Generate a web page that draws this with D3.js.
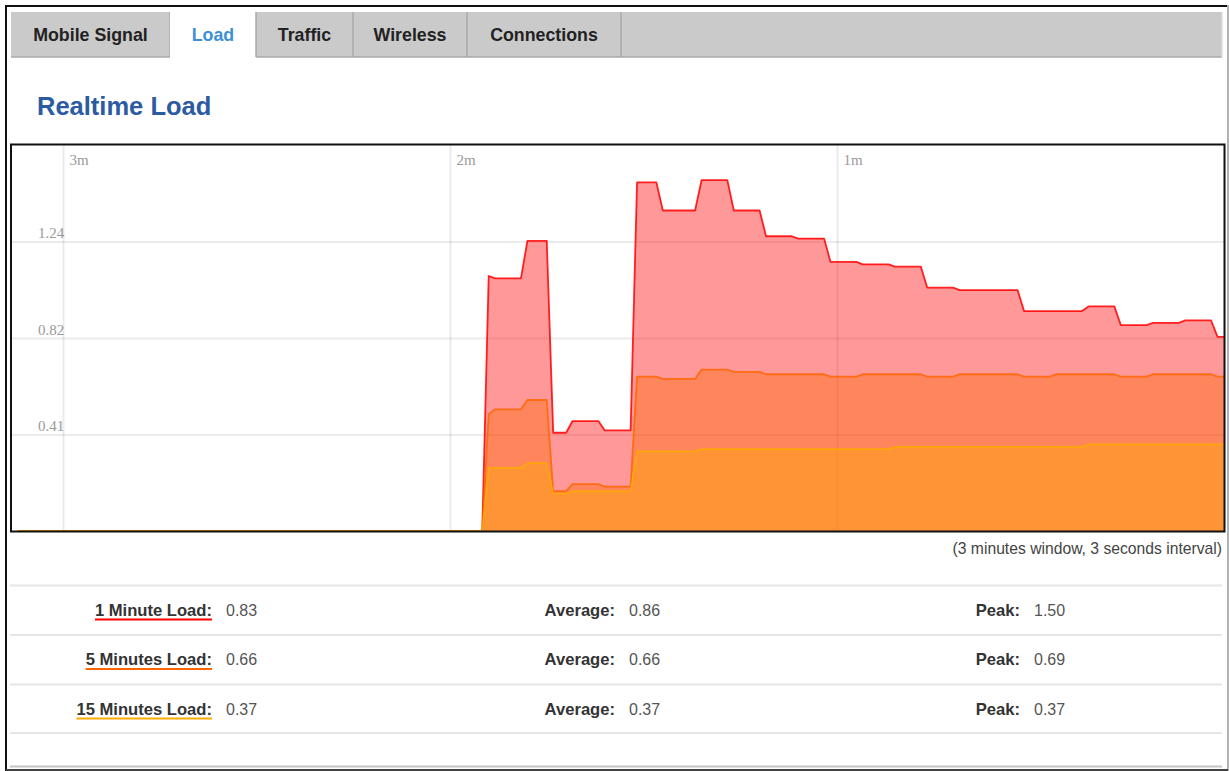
<!DOCTYPE html>
<html>
<head>
<meta charset="utf-8">
<title>Realtime Load</title>
<script src="https://cdn.jsdelivr.net/npm/d3@7"></script>
<style>
    html, body { margin: 0; padding: 0; background: #fff; }
    svg { display: block; }
</style>
</head>
<body>
<svg id="page"></svg>
<script>
(function(){
    // one sample per second, oldest -> newest (188 samples, last one is "now")
    const load1 = [
        0,0,0,0,0,0,0,0,0,0, 0,0,0,0,0,0,0,0,0,0, 0,0,0,0,0,0,0,0,0,0, 0,0,0,0,0,0,0,0,0,0,
        0,0,0,0,0,0,0,0,0,0, 0,0,0,0,0,0,0,0,0,0, 0,0,0,0,0,0,0,0,0,0, 0,0,0,
        1.09,1.08,1.08,1.08,1.08,1.08,1.24,1.24,1.24,1.24,
        0.42,0.42,0.42,0.47,0.47,0.47,0.47,0.47,0.43,0.43,0.43,0.43,0.43,
        1.49,1.49,1.49,1.49,1.37,1.37,1.37,1.37,1.37,1.37,
        1.50,1.50,1.50,1.50,1.50,1.37,1.37,1.37,1.37,1.37,
        1.26,1.26,1.26,1.26,1.26,1.25,1.25,1.25,1.25,1.25,
        1.15,1.15,1.15,1.15,1.15,1.14,1.14,1.14,1.14,1.14,
        1.13,1.13,1.13,1.13,1.13,1.04,1.04,1.04,1.04,1.04,
        1.03,1.03,1.03,1.03,1.03,1.03,1.03,1.03,1.03,1.03,
        0.94,0.94,0.94,0.94,0.94,0.94,0.94,0.94,0.94,0.94,
        0.96,0.96,0.96,0.96,0.96,0.88,0.88,0.88,0.88,0.88,
        0.89,0.89,0.89,0.89,0.89,0.90,0.90,0.90,0.90,0.90,
        0.83,0.83
    ];
    const load5 = [
        0,0,0,0,0,0,0,0,0,0, 0,0,0,0,0,0,0,0,0,0, 0,0,0,0,0,0,0,0,0,0, 0,0,0,0,0,0,0,0,0,0,
        0,0,0,0,0,0,0,0,0,0, 0,0,0,0,0,0,0,0,0,0, 0,0,0,0,0,0,0,0,0,0, 0,0,0,
        0.50,0.52,0.52,0.52,0.52,0.52,0.56,0.56,0.56,0.56,
        0.17,0.17,0.17,0.20,0.20,0.20,0.20,0.20,0.19,0.19,0.19,0.19,0.19,
        0.66,0.66,0.66,0.66,0.65,0.65,0.65,0.65,0.65,0.65,
        0.69,0.69,0.69,0.69,0.69,0.68,0.68,0.68,0.68,0.68,
        0.67,0.67,0.67,0.67,0.67,0.67,0.67,0.67,0.67,0.67,
        0.66,0.66,0.66,0.66,0.66,0.67,0.67,0.67,0.67,0.67,
        0.67,0.67,0.67,0.67,0.67,0.66,0.66,0.66,0.66,0.66,
        0.67,0.67,0.67,0.67,0.67,0.67,0.67,0.67,0.67,0.67,
        0.66,0.66,0.66,0.66,0.66,0.67,0.67,0.67,0.67,0.67,
        0.67,0.67,0.67,0.67,0.67,0.66,0.66,0.66,0.66,0.66,
        0.67,0.67,0.67,0.67,0.67,0.67,0.67,0.67,0.67,0.67,
        0.66,0.66
    ];
    const load15 = [
        0,0,0,0,0,0,0,0,0,0, 0,0,0,0,0,0,0,0,0,0, 0,0,0,0,0,0,0,0,0,0, 0,0,0,0,0,0,0,0,0,0,
        0,0,0,0,0,0,0,0,0,0, 0,0,0,0,0,0,0,0,0,0, 0,0,0,0,0,0,0,0,0,0, 0,0,0,
        0.27,0.27,0.27,0.27,0.27,0.27,0.29,0.29,0.29,0.29,
        0.16,0.16,0.16,0.17,0.17,0.17,0.17,0.17,0.17,0.17,0.17,0.17,0.17,
        0.34,0.34,0.34,0.34,0.34,0.34,0.34,0.34,0.34,0.34,
        0.35,0.35,0.35,0.35,0.35,0.35,0.35,0.35,0.35,0.35,
        0.35,0.35,0.35,0.35,0.35,0.35,0.35,0.35,0.35,0.35,
        0.35,0.35,0.35,0.35,0.35,0.35,0.35,0.35,0.35,0.35,
        0.36,0.36,0.36,0.36,0.36,0.36,0.36,0.36,0.36,0.36,
        0.36,0.36,0.36,0.36,0.36,0.36,0.36,0.36,0.36,0.36,
        0.36,0.36,0.36,0.36,0.36,0.36,0.36,0.36,0.36,0.36,
        0.37,0.37,0.37,0.37,0.37,0.37,0.37,0.37,0.37,0.37,
        0.37,0.37,0.37,0.37,0.37,0.37,0.37,0.37,0.37,0.37,
        0.37,0.37
    ];

    const seriesLabels = ["1 Minute Load:", "5 Minutes Load:", "15 Minutes Load:"];
    const seriesColors = ["#ff0000", "#ff6600", "#ffaa00"];
    const currentVals  = ["0.83", "0.66", "0.37"];
    const averageVals  = ["0.86", "0.66", "0.37"];
    const peakVals     = ["1.50", "0.69", "0.37"];

    const yMax        = 1.65;                       // peak * 1.1
    const yTicks      = [0.4125, 0.825, 1.2375];
    const yTickLabels = ["0.41", "0.82", "1.24"];
    const timeTicks   = [180, 120, 60];             // seconds ago

    const tabs      = ["Mobile Signal", "Load", "Traffic", "Wireless", "Connections"];
    const activeTab = 1;

    const W = 1229, H = 771;
    const svg = d3.select("#page").attr("width", W).attr("height", H);
    const sans = "'Liberation Sans', Arial, sans-serif";

    // page frame
    svg.append("line").attr("x1",5).attr("x2",1227).attr("y1",6).attr("y2",6).attr("stroke","#111").attr("stroke-width",2);
    svg.append("line").attr("x1",6).attr("x2",6).attr("y1",5).attr("y2",771).attr("stroke","#111").attr("stroke-width",2);
    svg.append("line").attr("x1",1228).attr("x2",1228).attr("y1",5).attr("y2",771).attr("stroke","#999").attr("stroke-width",1.5);
    svg.append("line").attr("x1",6).attr("x2",1228).attr("y1",770).attr("y2",770).attr("stroke","#444").attr("stroke-width",2);

    // tab bar
    const tabEdges = [11, 170, 256, 353, 467, 621];
    const tabBar = svg.append("g");
    tabBar.append("rect").attr("x",11).attr("y",12).attr("width",1211).attr("height",45).attr("fill","#cacaca");
    tabBar.append("line").attr("x1",11).attr("x2",1222).attr("y1",57).attr("y2",57).attr("stroke","#aaa").attr("stroke-width",1.5);
    tabBar.append("line").attr("x1",1222).attr("x2",1222).attr("y1",12).attr("y2",57).attr("stroke","#ddd").attr("stroke-width",1.5);
    tabs.forEach((t, i) => {
        const x0 = tabEdges[i], x1 = tabEdges[i+1];
        if (i === activeTab) {
            tabBar.append("rect").attr("x",x0).attr("y",12).attr("width",x1-x0).attr("height",46).attr("fill","#fff");
        }
        tabBar.append("line").attr("x1",x1).attr("x2",x1).attr("y1",12).attr("y2",57).attr("stroke","#aaa").attr("stroke-width",1.5);
        tabBar.append("text").attr("x",(x0+x1)/2).attr("y",40.5).attr("text-anchor","middle")
            .attr("font-family",sans).attr("font-weight","bold").attr("font-size",17.8)
            .attr("fill", i === activeTab ? "#3d8fd8" : "#222").text(t);
    });

    // title
    svg.append("text").attr("x",37).attr("y",115).attr("font-family",sans).attr("font-weight","bold")
        .attr("font-size",25.5).attr("fill","#2c5ba2").text("Realtime Load");

    // chart
    const plot = { left: 12, top: 145, width: 1212, height: 386 };
    const nSamples = load1.length;

    const x = d3.scaleLinear().domain([180, 0]).range([51, plot.width]);
    const y = d3.scaleLinear().domain([0, yMax]).range([plot.height, 0]);

    svg.append("clipPath").attr("id","plotClip").append("rect")
        .attr("width",plot.width).attr("height",plot.height);

    const g = svg.append("g").attr("transform",`translate(${plot.left},${plot.top})`);
    const inner = g.append("g").attr("clip-path","url(#plotClip)");

    // grid + labels via axes
    const yAxis = inner.append("g").call(
        d3.axisLeft(y).tickValues(yTicks).tickSize(-plot.width).tickFormat((d,i) => yTickLabels[i])
    );
    const xAxis = inner.append("g").call(
        d3.axisTop(x).tickValues(timeTicks).tickSize(-plot.height).tickFormat(d => (d/60) + "m")
    );
    [yAxis, xAxis].forEach(a => {
        a.select(".domain").remove();
        a.selectAll(".tick line").attr("stroke","#000").attr("stroke-opacity",0.08).attr("stroke-width",2);
        a.selectAll(".tick text").attr("fill","#9a9a9a").attr("font-family","'Liberation Serif', 'Times New Roman', serif")
            .attr("font-size",15).attr("text-anchor","start");
    });
    yAxis.selectAll(".tick text").attr("x",26).attr("dy",-4);
    xAxis.selectAll(".tick text").attr("x",6).attr("y",20).attr("dy",0);

    const series = [load1, load5, load15];
    const tAt = i => nSamples - 1 - i;          // seconds ago
    const area = d3.area().x((d,i) => x(tAt(i))).y0(plot.height).y1(d => y(d));
    const line = d3.line().x((d,i) => x(tAt(i))).y(d => y(d));

    series.forEach((s, k) => {
        inner.append("path").datum(s).attr("d", area)
            .attr("fill", seriesColors[k]).attr("fill-opacity", 0.4).attr("stroke","none");
        inner.append("path").datum(s).attr("d", line)
            .attr("fill","none").attr("stroke", seriesColors[k]).attr("stroke-width",1.8)
            .attr("stroke-opacity",0.85).attr("stroke-linejoin","round");
    });

    // chart border
    svg.append("rect").attr("x",11).attr("y",144.5).attr("width",1213.5).attr("height",387)
        .attr("fill","none").attr("stroke","#111").attr("stroke-width",2);

    // caption
    svg.append("text").attr("x",1222).attr("y",554).attr("text-anchor","end")
        .attr("font-family",sans).attr("font-size",15.7).attr("fill","#444")
        .text("(3 minutes window, 3 seconds interval)");

    // stats table
    const rowLines = [585.5, 635, 684.5, 733];
    rowLines.forEach(ly => {
        svg.append("line").attr("x1",10).attr("x2",1222).attr("y1",ly).attr("y2",ly)
            .attr("stroke","#e6e6e6").attr("stroke-width",2);
    });
    svg.append("line").attr("x1",10).attr("x2",1222).attr("y1",766.5).attr("y2",766.5)
        .attr("stroke","#c4c4c4").attr("stroke-width",2);

    const rows = svg.append("g").selectAll("g").data(seriesLabels).enter().append("g")
        .attr("transform",(d,i) => `translate(0,${615.5 + i*49.5})`);

    const labelText = (sel, xEnd, txt) => sel.append("text").attr("x",xEnd).attr("text-anchor","end")
        .attr("font-family",sans).attr("font-weight","bold").attr("font-size",16.6).attr("fill","#333").text(txt);
    const valueText = (sel, x0, txt) => sel.append("text").attr("x",x0)
        .attr("font-family",sans).attr("font-size",16).attr("fill","#555").text(txt);

    rows.each(function(d, i){
        const r = d3.select(this);
        const lab = labelText(r, 212, d);
        const len = lab.node().getComputedTextLength();
        r.append("line").attr("x1",212-len).attr("x2",212).attr("y1",4).attr("y2",4)
            .attr("stroke",seriesColors[i]).attr("stroke-width",2);
        valueText(r, 226, currentVals[i]);
        labelText(r, 615, "Average:");
        valueText(r, 629, averageVals[i]);
        labelText(r, 1020, "Peak:");
        valueText(r, 1034, peakVals[i]);
    });
})();
</script>
</body>
</html>
